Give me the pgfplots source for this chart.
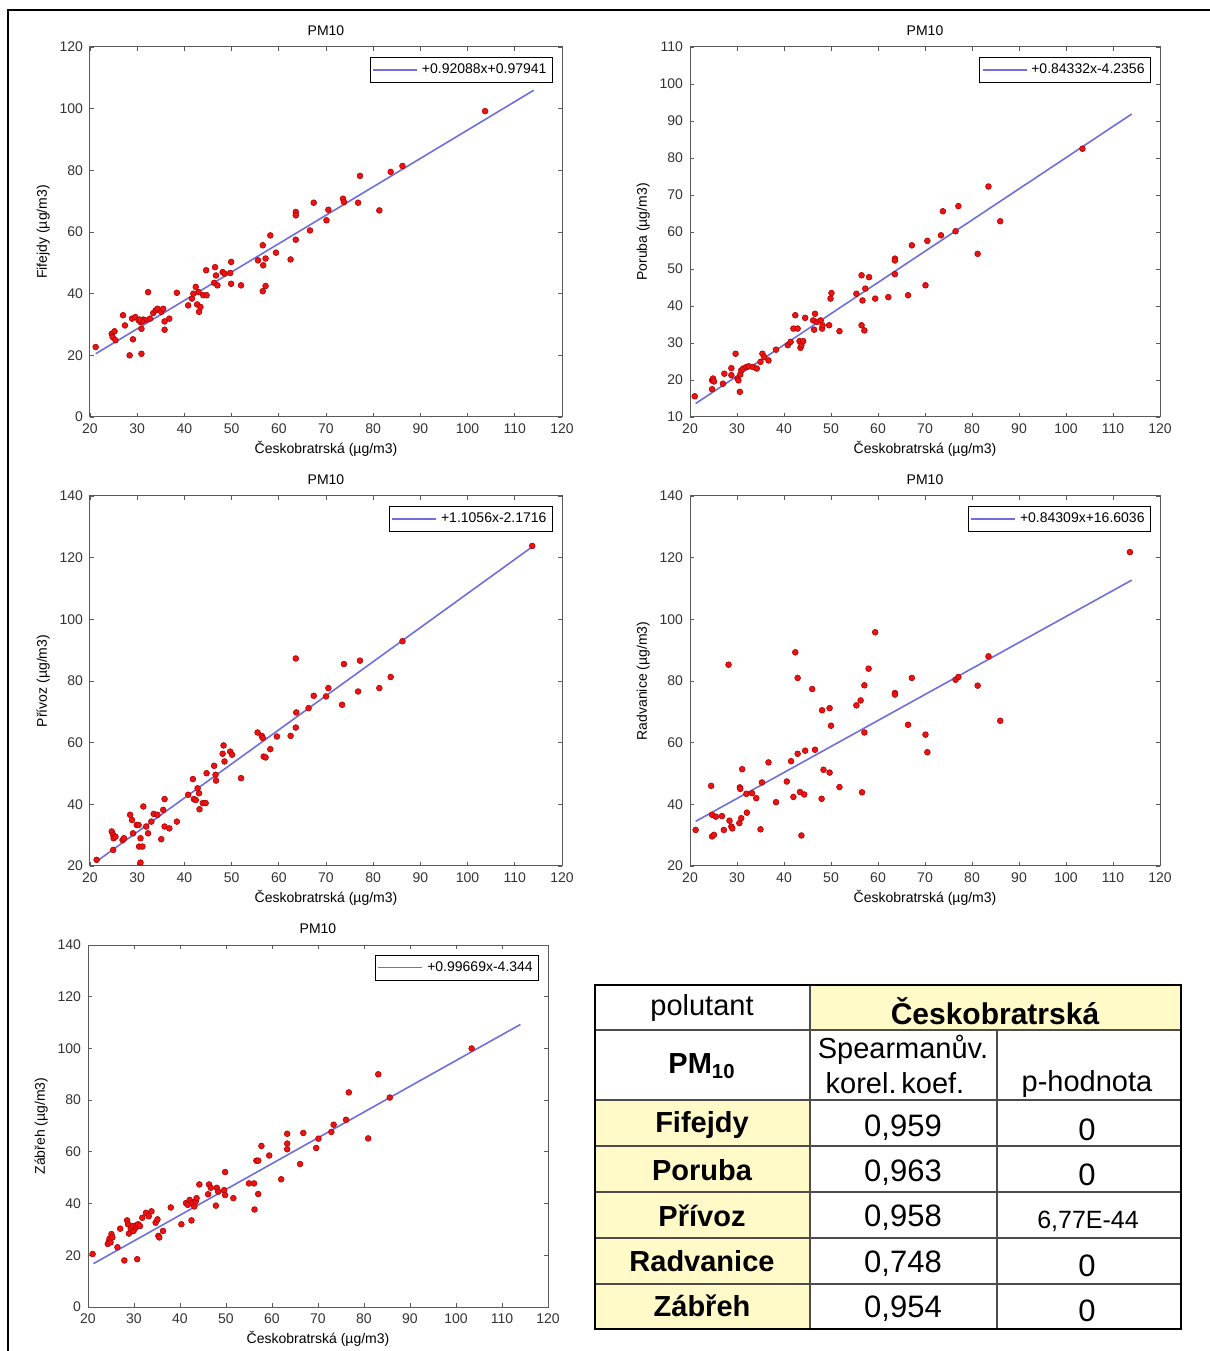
\documentclass[border=0pt]{standalone}
\usepackage{fontspec}
\setmainfont{Liberation Sans}
\usepackage{pgfplots}
\pgfplotsset{compat=1.18}
\definecolor{fitblue}{RGB}{110,110,225}
\definecolor{ptred}{RGB}{235,20,20}
\definecolor{cellyel}{RGB}{255,250,200}
\definecolor{axgray}{RGB}{90,90,90}

\pgfplotsset{
  mlab/.style={
    scale only axis,
    font=\fontsize{7}{8}\selectfont,
    axis line style={axgray,line width=0.5pt},
    tick style={axgray,line width=0.4pt},
    major tick length=2.2pt,
    tick align=inside,
    xmin=20,xmax=120,xtick={20,30,...,120},
    xlabel={Českobratrská (µg/m3)},
    title={PM10},
    ticklabel style={font=\fontsize{7}{8}\selectfont,text=black!80},
    /pgf/number format/assume math mode=true,
    xlabel style={yshift=3pt},
    ylabel style={yshift=-2pt},
    title style={yshift=-4pt},
    legend style={at={(0.981,0.973)},anchor=north east,draw=black,line width=0.5pt,
      font=\fontsize{7}{8}\selectfont,inner sep=1pt},
    legend cell align=left,
    legend image code/.code={\draw[#1] (0pt,0pt) -- (22pt,0pt);},
  },
  pts/.style={only marks,mark=*,mark size=1.45pt,
    mark options={fill=ptred,draw=red!70!black,line width=0.3pt},forget plot},
  fit/.style={fitblue,line width=0.8pt,no marks},
}

\begin{document}
\begin{tikzpicture}
\path[use as bounding box] (0,0) rectangle (605pt,675.5pt);

% Fifejdy
\begin{axis}[mlab,at={(45pt,467pt)},anchor=south west,width=236pt,height=185pt,
  ymin=0,ymax=120,ytick={0,20,...,120},ylabel={Fifejdy (µg/m3)}]
\addplot[pts] coordinates {
(21.2,22.7)(24.6,27.0)(24.8,25.9)(25.2,27.8)(25.4,24.9)(27.0,33.0)(27.4,29.7)(28.4,20.0)
(28.9,31.9)(29.1,25.2)(29.6,32.4)(30.3,31.4)(30.7,30.8)(30.9,28.6)(30.9,20.5)(31.3,31.6)
(31.7,31.4)(31.0,31.0)(30.5,31.6)(32.3,40.5)(32.7,31.9)(33.4,33.7)(33.9,34.6)(34.3,35.1)
(35.1,34.1)(35.5,35.1)(35.8,31.0)(35.8,28.3)(36.8,31.9)(38.4,40.3)(40.8,36.2)(41.6,38.4)
(41.9,40.0)(42.4,42.2)(42.7,36.5)(43.0,40.5)(43.1,34.1)(43.4,35.7)(44.0,39.5)(44.7,39.5)
(44.6,47.6)(46.3,43.5)(46.5,48.6)(46.7,45.9)(47.0,42.7)(48.1,47.0)(48.5,46.5)(49.7,46.7)
(49.9,50.3)(49.9,43.2)(52.0,42.7)(55.6,50.8)(56.6,55.7)(56.7,49.2)(56.6,40.8)(57.2,51.4)
(57.2,42.5)(58.2,58.9)(59.4,53.3)(62.5,51.1)(63.6,66.5)(63.6,65.4)(63.6,57.5)(66.6,60.5)
(67.4,69.5)(70.1,63.8)(70.5,67.2)(73.6,70.8)(73.8,69.7)(76.8,69.5)(77.2,78.2)(81.3,67.0)
(83.7,79.5)(86.2,81.4)(103.7,99.2)};
\addplot[fit] coordinates {(21.2,20.50)(114,105.96)};
\addlegendentry{+0.92088x+0.97941}
\end{axis}

% Poruba
\begin{axis}[mlab,at={(345pt,467pt)},anchor=south west,width=235pt,height=185pt,
  ymin=10,ymax=110,ytick={10,20,...,110},ylabel={Poruba (µg/m3)}]
\addplot[pts] coordinates {
(21.0,15.6)(24.7,19.9)(24.9,20.4)(25.1,19.6)(24.7,17.5)(27.0,19.0)(27.3,21.7)(28.8,23.2)
(28.8,21.3)(29.7,27.1)(30.1,20.4)(30.3,19.9)(30.6,16.8)(30.7,21.5)(30.9,22.6)(31.3,23.1)
(32.0,23.5)(32.5,23.7)(33.4,23.5)(34.2,23.1)(35.0,24.9)(35.4,27.1)(35.8,26.2)(36.7,25.3)
(38.3,28.2)(40.8,29.4)(41.4,30.3)(42.0,33.9)(42.4,37.5)(42.9,33.9)(43.3,30.5)(43.5,28.7)
(43.7,29.4)(44.1,30.5)(44.5,36.8)(46.2,36.1)(46.4,33.6)(46.6,37.9)(47.0,35.7)(47.8,36.1)
(48.1,33.9)(48.2,34.8)(49.6,34.8)(49.9,42.0)(50.1,43.5)(51.8,33.2)(55.4,43.3)(56.5,48.3)
(56.7,41.5)(56.5,34.8)(57.1,33.4)(57.3,44.7)(58.1,47.8)(59.4,42.0)(62.2,42.4)(63.6,52.8)
(63.6,52.3)(63.6,48.6)(66.4,42.9)(67.2,56.4)(70.1,45.6)(70.5,57.6)(73.4,59.1)(73.8,65.6)
(76.5,60.2)(77.1,67.0)(81.2,54.1)(83.5,72.3)(86.0,62.9)(103.5,82.5)};
\addplot[fit] coordinates {(21.2,13.64)(114,91.90)};
\addlegendentry{+0.84332x-4.2356}
\end{axis}

% Privoz
\begin{axis}[mlab,at={(45pt,242.5pt)},anchor=south west,width=236pt,height=185pt,
  ymin=20,ymax=140,ytick={20,40,...,140},ylabel={Přívoz (µg/m3)}]
\addplot[pts] coordinates {
(21.4,22.0)(24.9,25.2)(24.6,31.2)(24.9,30.1)(25.0,29.0)(25.4,29.5)(26.9,28.4)(27.2,29.0)
(28.5,36.6)(28.9,34.9)(29.1,30.6)(29.9,33.3)(30.3,33.3)(30.4,26.3)(30.7,29.0)(30.7,21.1)
(31.3,39.3)(31.1,26.3)(31.9,32.8)(32.3,30.6)(33.0,34.4)(33.5,36.9)(34.3,36.6)(35.1,28.7)
(35.5,38.2)(35.8,41.7)(35.8,32.8)(36.8,32.2)(38.4,34.4)(40.8,43.1)(41.8,48.2)(42.0,41.7)
(42.4,41.4)(42.8,45.2)(43.1,43.6)(43.2,38.4)(43.9,40.4)(44.5,40.4)(44.7,50.1)(46.3,52.5)
(46.6,49.6)(46.7,47.7)(48.3,59.1)(48.1,56.4)(48.5,53.9)(49.7,57.1)(50.1,56.1)(52.0,48.5)
(55.5,63.3)(56.4,62.2)(56.6,61.5)(56.8,55.5)(57.2,55.2)(58.2,57.9)(59.6,62.0)(62.5,62.2)
(63.6,87.3)(63.7,69.8)(63.6,64.9)(66.3,71.2)(67.4,75.2)(70.0,75.0)(70.5,77.7)(73.4,72.3)
(73.8,85.5)(76.8,76.6)(77.2,86.6)(81.3,77.7)(83.7,81.3)(86.2,92.9)(113.7,123.8)};
\addplot[fit] coordinates {(21.2,21.27)(114,123.87)};
\addlegendentry{+1.1056x-2.1716}
\end{axis}

% Radvanice
\begin{axis}[mlab,at={(345pt,242.5pt)},anchor=south west,width=235pt,height=185pt,
  ymin=20,ymax=140,ytick={20,40,...,140},ylabel={Radvanice (µg/m3)}]
\addplot[pts] coordinates {
(21.2,31.7)(24.5,46.0)(24.7,36.6)(24.7,29.6)(25.1,30.1)(25.5,36.0)(26.8,36.2)(27.2,31.7)
(28.2,85.3)(28.4,34.7)(28.8,32.8)(29.0,32.2)(30.5,33.9)(30.6,45.5)(30.7,45.0)(30.9,35.5)
(31.1,51.4)(32.0,43.4)(32.1,37.3)(33.2,43.6)(34.1,42.0)(35.0,31.9)(35.3,47.1)(36.7,53.6)
(38.3,40.7)(40.6,47.4)(41.5,54.0)(42.0,42.4)(42.4,89.3)(42.9,81.0)(42.9,56.4)(43.4,44.0)
(43.7,29.9)(44.3,43.2)(44.5,57.4)(46.0,77.4)(46.6,57.7)(48.0,41.8)(48.1,70.5)(48.4,51.2)
(49.7,71.2)(49.7,50.3)(50.0,65.5)(51.8,45.6)(55.4,72.1)(56.3,73.7)(56.6,43.9)(57.1,78.6)
(57.1,63.3)(58.0,84.0)(59.4,95.8)(63.6,76.1)(63.6,75.6)(66.4,65.8)(67.2,81.0)(70.1,62.6)
(70.5,56.9)(76.5,80.4)(77.1,81.3)(81.2,78.5)(83.5,88.0)(86.0,67.1)(113.6,121.8)};
\addplot[fit] coordinates {(21.2,34.48)(114,112.72)};
\addlegendentry{+0.84309x+16.6036}
\end{axis}

% Zabreh
\begin{axis}[mlab,at={(44pt,22pt)},anchor=south west,width=230pt,height=181pt,
  ymin=0,ymax=140,ytick={0,20,...,140},ylabel={Zábřeh (µg/m3)}]
\addplot[pts] coordinates {
(21.0,20.5)(24.3,24.4)(24.6,25.6)(24.7,26.5)(24.9,25.0)(25.1,28.2)(25.3,26.9)(26.4,23.1)
(27.0,30.3)(27.9,18.0)(28.5,33.5)(28.7,32.0)(28.9,28.4)(29.3,30.1)(29.7,31.3)(29.9,29.4)
(30.4,30.7)(30.5,31.6)(30.7,18.5)(30.9,32.0)(31.3,31.3)(31.8,34.5)(32.6,36.4)(33.2,35.1)
(33.8,37.0)(34.7,32.6)(35.1,33.9)(35.3,27.5)(35.5,26.9)(36.3,29.4)(38.0,38.5)(40.3,32.0)
(41.3,40.2)(41.7,39.5)(42.1,41.4)(42.5,33.5)(42.7,40.2)(43.1,38.9)(43.4,40.8)(43.6,42.1)
(44.2,47.4)(46.1,43.6)(46.3,47.4)(46.7,46.1)(47.8,39.2)(48.0,46.1)(48.3,44.6)(49.6,45.2)
(49.8,52.2)(49.8,43.3)(51.6,42.1)(55.0,47.8)(56.1,47.8)(56.2,37.7)(56.6,56.6)(57.0,56.6)
(57.0,43.7)(57.7,62.3)(59.4,58.6)(62.0,49.4)(63.3,67.0)(63.3,63.2)(63.3,61.0)(66.1,55.3)
(66.8,67.3)(69.6,61.5)(70.1,65.1)(72.9,67.7)(73.4,70.5)(76.1,72.4)(76.7,83.0)(80.9,65.2)
(83.1,90.0)(85.6,81.0)(103.4,100.0)};
\addplot[fit] coordinates {(21.2,16.79)(114,109.28)};
\addlegendentry{+0.99669x-4.344}
\end{axis}

% frame and table (pixel coordinates of the figure)
\begin{scope}[x=0.5pt,y=-0.5pt,shift={(0pt,675.5pt)}]
\draw[black,line width=1.1pt] (8,1351) -- (8,10) -- (1210,10);
\fill[cellyel] (810,985) rectangle (1181,1030);
\fill[cellyel] (595,1100) rectangle (810,1329);
\draw[black!70,line width=0.8pt]
  (595,1030) -- (1181,1030)
  (595,1100) -- (1181,1100)
  (595,1146) -- (1181,1146)
  (595,1192) -- (1181,1192)
  (595,1238) -- (1181,1238)
  (595,1284) -- (1181,1284)
  (810,985) -- (810,1329)
  (997,1030) -- (997,1329);
\draw[black,line width=1.1pt] (595,985) rectangle (1181,1329);
\begin{scope}[every node/.style={inner sep=0pt,anchor=center}]
\node[font=\fontsize{14.5}{16}\selectfont] at (702,1008) {polutant};
\node[font=\fontsize{15}{17}\selectfont\bfseries] at (995,1011) {Českobratrská};
\node[font=\fontsize{14.5}{16}\selectfont\bfseries] at (702,1066) {PM\textsubscript{10}};
\node[font=\fontsize{14.5}{16}\selectfont] at (903,1050) {Spearmanův.};
\node[font=\fontsize{14.5}{16}\selectfont] at (895,1083) {korel.\,koef.};
\node[font=\fontsize{14.5}{16}\selectfont] at (1087,1084) {p-hodnota};
\foreach \name/\yy in {Fifejdy/1125,Poruba/1170,Přívoz/1216,Radvanice/1261,Zábřeh/1306}
  \node[font=\fontsize{14.5}{16}\selectfont\bfseries] at (702,\yy) {\name};
\foreach \val/\yy in {{0,959}/1128,{0,963}/1173,{0,958}/1218,{0,748}/1264,{0,954}/1309}
  \node[font=\fontsize{15.5}{17}\selectfont] at (903,\yy) {\val};
\foreach \yy in {1130,1175,1266,1311}
  \node[font=\fontsize{15.5}{17}\selectfont] at (1087,\yy) {0};
\node[font=\fontsize{12.5}{14}\selectfont] at (1088,1221) {6,77E-44};
\end{scope}
\end{scope}
\end{tikzpicture}
\end{document}
